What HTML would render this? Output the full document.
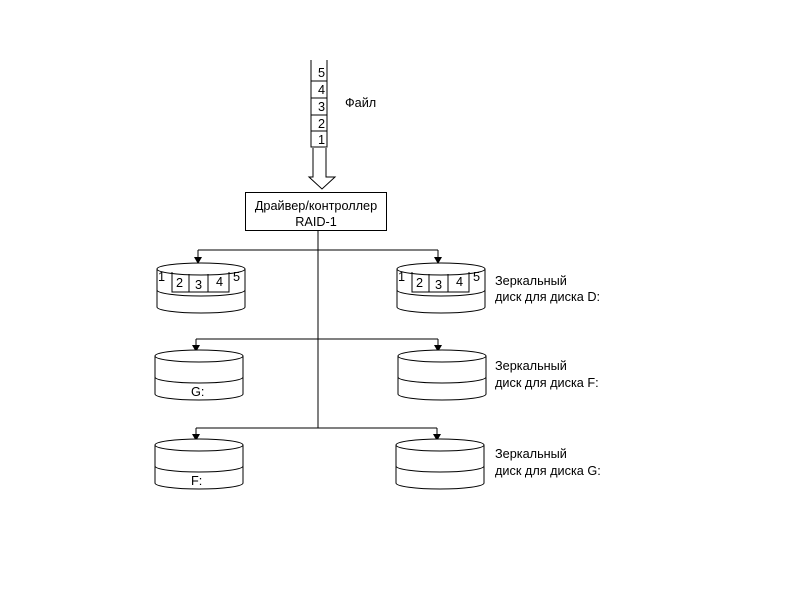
<!DOCTYPE html>
<html><head><meta charset="utf-8"><style>body{margin:0;background:#fff}svg{display:block}text{font-family:"Liberation Sans",sans-serif;font-size:12.7px;fill:#000}</style></head><body>
<svg width="800" height="600" viewBox="0 0 800 600" xmlns="http://www.w3.org/2000/svg">
<defs>
<g id="disk" fill="#fff" stroke="#000" stroke-width="1">
<path d="M0,6 L0,44 A44,6 0 0 0 88,44 L88,6"/>
<ellipse cx="44" cy="6" rx="44" ry="6"/>
<path d="M0,27 A44,6 0 0 0 88,27" fill="none"/>
</g>
<g id="cells" fill="none" stroke="#000">
<path d="M15,9 L15,29 L72,29 L72,9"/>
<line x1="32" y1="11" x2="32" y2="29"/><line x1="51" y1="11" x2="51" y2="29"/>
</g>
<path id="ah" d="M-4,-7 L4,-7 L0,0 Z" fill="#000"/>
</defs>
<g stroke="#000" fill="none">
<path d="M311,60 L311,147 L327,147 L327,60"/>
<line x1="311" y1="81" x2="327" y2="81"/><line x1="311" y1="98" x2="327" y2="98"/>
<line x1="311" y1="115" x2="327" y2="115"/><line x1="311" y1="131" x2="327" y2="131"/>
<path d="M313,148 L313,177 L309,177 L322,189 L335,177 L326,177 L326,148"/>
<rect x="245.5" y="192.5" width="141" height="38"/>
<line x1="318" y1="231" x2="318" y2="428"/>
<line x1="198" y1="250" x2="438" y2="250"/><line x1="198" y1="250" x2="198" y2="262"/><line x1="438" y1="250" x2="438" y2="262"/>
<line x1="196" y1="339" x2="438" y2="339"/><line x1="196" y1="339" x2="196" y2="350"/><line x1="438" y1="339" x2="438" y2="350"/>
<line x1="196" y1="428" x2="437" y2="428"/><line x1="196" y1="428" x2="196" y2="439"/><line x1="437" y1="428" x2="437" y2="439"/>
</g>
<use href="#ah" x="198" y="264"/><use href="#ah" x="438" y="264"/>
<use href="#ah" x="196" y="352"/><use href="#ah" x="438" y="352"/>
<use href="#ah" x="196" y="441"/><use href="#ah" x="437" y="441"/>
<text x="318" y="77">5</text><text x="318" y="94">4</text><text x="318" y="111">3</text><text x="318" y="128">2</text><text x="318" y="144">1</text>
<text x="345" y="107">Файл</text>
<text x="316" y="210" text-anchor="middle">Драйвер/контроллер</text>
<text x="316" y="226" text-anchor="middle">RAID-1</text>
<g transform="translate(157,263)"><use href="#disk"/><use href="#cells"/>
<text x="1" y="18">1</text><text x="19" y="24">2</text><text x="38" y="26">3</text><text x="59" y="23">4</text><text x="76" y="18">5</text></g>
<g transform="translate(397,263)"><use href="#disk"/><use href="#cells"/>
<text x="1" y="18">1</text><text x="19" y="24">2</text><text x="38" y="26">3</text><text x="59" y="23">4</text><text x="76" y="18">5</text></g>
<g transform="translate(155,350)"><use href="#disk"/><text x="36" y="46">G:</text></g>
<g transform="translate(398,350)"><use href="#disk"/></g>
<g transform="translate(155,439)"><use href="#disk"/><text x="36" y="46">F:</text></g>
<g transform="translate(396,439)"><use href="#disk"/></g>
<text x="495" y="285">Зеркальный</text><text x="495" y="301">диск для диска D:</text>
<text x="495" y="370">Зеркальный</text><text x="495" y="387">диск для диска F:</text>
<text x="495" y="458">Зеркальный</text><text x="495" y="475">диск для диска G:</text>
</svg>
</body></html>
